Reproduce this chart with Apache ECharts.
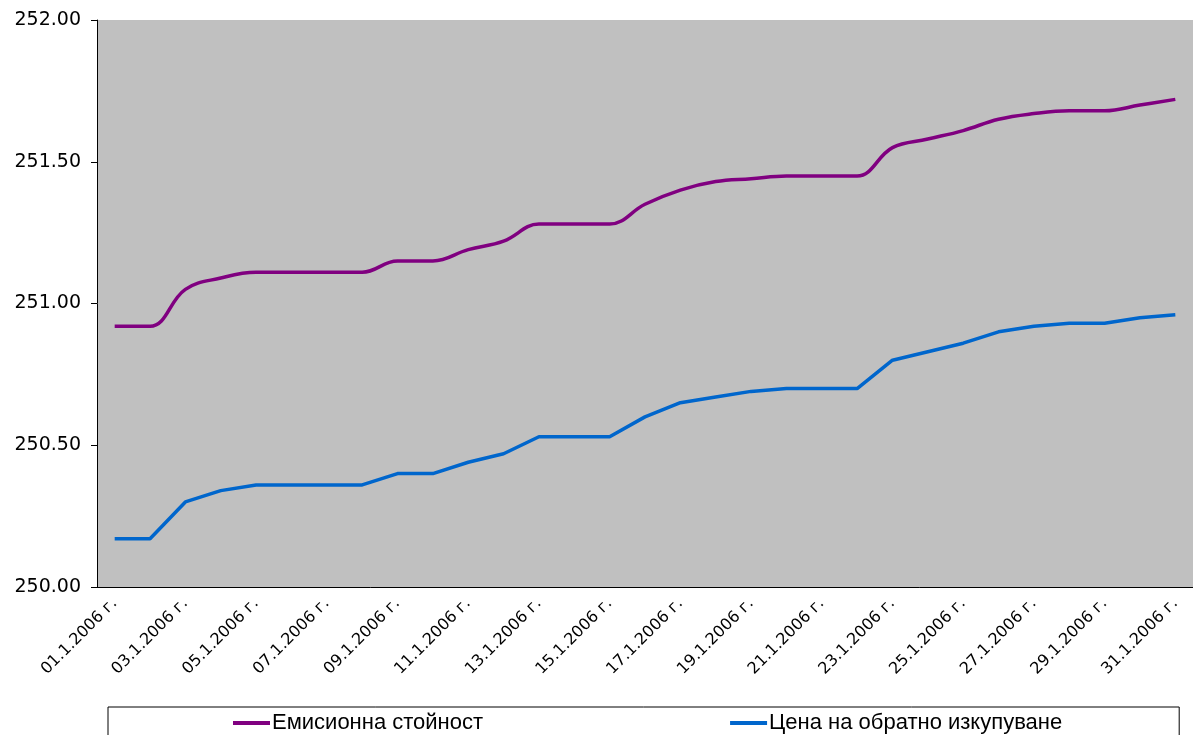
<!DOCTYPE html>
<html>
<head>
<meta charset="utf-8">
<script src="https://cdn.jsdelivr.net/npm/echarts@6/dist/echarts.min.js"></script>
<style>
html,body{margin:0;padding:0;background:#fff;}
#chart{width:1193px;height:735px;}
</style>
</head>
<body>
<div id="chart"></div>
<script>
var categories = ["01.1.2006 г.","02.1.2006 г.","03.1.2006 г.","04.1.2006 г.","05.1.2006 г.","06.1.2006 г.","07.1.2006 г.","08.1.2006 г.","09.1.2006 г.","10.1.2006 г.","11.1.2006 г.","12.1.2006 г.","13.1.2006 г.","14.1.2006 г.","15.1.2006 г.","16.1.2006 г.","17.1.2006 г.","18.1.2006 г.","19.1.2006 г.","20.1.2006 г.","21.1.2006 г.","22.1.2006 г.","23.1.2006 г.","24.1.2006 г.","25.1.2006 г.","26.1.2006 г.","27.1.2006 г.","28.1.2006 г.","29.1.2006 г.","30.1.2006 г.","31.1.2006 г."];
var seriesNames = ["Емисионна стойност","Цена на обратно изкупуване"];
var emissionValue = [250.92,250.92,251.05,251.09,251.11,251.11,251.11,251.11,251.15,251.15,251.19,251.22,251.28,251.28,251.28,251.35,251.40,251.43,251.44,251.45,251.45,251.45,251.55,251.58,251.61,251.65,251.67,251.68,251.68,251.70,251.72];
var redemptionPrice = [250.17,250.17,250.30,250.34,250.36,250.36,250.36,250.36,250.40,250.40,250.44,250.47,250.53,250.53,250.53,250.60,250.65,250.67,250.69,250.70,250.70,250.70,250.80,250.83,250.86,250.90,250.92,250.93,250.93,250.95,250.96];
var yMin = 250, yMax = 252, yStep = 0.5;

var chart = echarts.init(document.getElementById('chart'), null, {renderer:'canvas'});
chart.setOption({
  animation:false,
  backgroundColor:'#ffffff',
  grid:{left:97, top:20, bottom:148, right:-1, show:true, backgroundColor:'#C0C0C0', borderWidth:0},
  legend:{
    data:seriesNames,
    left:108, top:707,
    padding:[5,117,20,125],
    borderColor:'#000', borderWidth:1,
    icon:'rect', itemWidth:37, itemHeight:4, itemGap:247,
    textStyle:{fontFamily:'Liberation Sans', fontSize:22, color:'#000', padding:[0,0,0,-3]}
  },
  xAxis:{
    type:'category', data:categories, boundaryGap:true,
    axisLine:{lineStyle:{color:'#000', width:1}},
    axisTick:{interval:1, length:6, lineStyle:{color:'#000'}},
    axisLabel:{interval:1, rotate:45, fontFamily:'DejaVu Sans', fontSize:16, color:'#000', margin:14},
    splitLine:{show:false}
  },
  yAxis:{
    type:'value', min:yMin, max:yMax, interval:yStep,
    axisLine:{show:true, lineStyle:{color:'#000', width:1}},
    axisTick:{show:true, length:6, lineStyle:{color:'#000'}},
    axisLabel:{fontFamily:'DejaVu Sans', fontSize:19, color:'#000', margin:16, formatter:function(v){return v.toFixed(2);}},
    splitLine:{show:false}
  },
  series:[
    {name:seriesNames[0], type:'line', data:emissionValue, smooth:0.4, symbol:'none', lineStyle:{color:'#800080', width:3.5}, itemStyle:{color:'#800080'}},
    {name:seriesNames[1], type:'line', data:redemptionPrice, smooth:false, symbol:'none', lineStyle:{color:'#0066CC', width:3.5}, itemStyle:{color:'#0066CC'}}
  ]
});
</script>
</body>
</html>
